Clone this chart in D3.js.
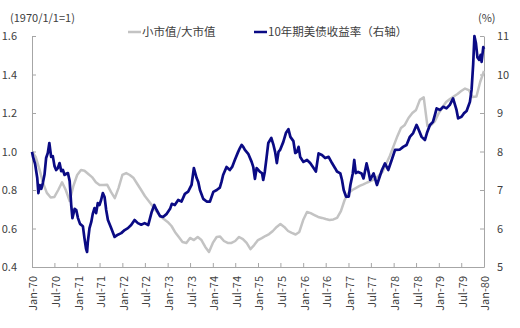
<!DOCTYPE html>
<html><head><meta charset="utf-8">
<script src="https://cdn.jsdelivr.net/npm/d3@7"></script>
<style>
html,body{margin:0;padding:0;background:#fff;}
svg text{font-family:"Noto Sans CJK SC","Noto Sans",sans-serif;fill:#404040;}
</style></head>
<body><svg id="c" width="520" height="328"></svg>
<script>
// ---- data ----
const seriesNames = ["小市值/大市值", "10年期美债收益率（右轴）"];
const leftTicks = [0.4, 0.6, 0.8, 1.0, 1.2, 1.4, 1.6];
const rightTicks = [5, 6, 7, 8, 9, 10, 11];
// small/large cap ratio, monthly from Jan-1970 to Jan-1980
const ratioValues = [1.0,0.97,0.91,0.836,0.785,0.761,0.764,0.80,0.84,0.80,
0.743,0.82,0.878,0.904,0.90,0.883,0.867,0.84,0.826,0.826,
0.827,0.79,0.758,0.81,0.878,0.888,0.878,0.862,0.831,0.80,
0.769,0.743,0.717,0.691,0.665,0.649,0.634,0.613,0.582,0.556,
0.53,0.525,0.551,0.54,0.556,0.54,0.504,0.478,0.525,0.556,
0.558,0.535,0.525,0.525,0.535,0.556,0.545,0.525,0.493,0.514,
0.54,0.55,0.561,0.571,0.587,0.608,0.623,0.608,0.587,0.577,
0.569,0.582,0.644,0.686,0.68,0.67,0.66,0.655,0.649,0.644,
0.647,0.655,0.69,0.748,0.784,0.80,0.81,0.821,0.829,0.839,
0.847,0.857,0.873,0.893,0.935,0.977,1.029,1.081,1.122,1.138,
1.174,1.2,1.216,1.268,1.281,1.132,1.138,1.158,1.20,1.231,
1.257,1.273,1.286,1.299,1.314,1.327,1.319,1.283,1.286,1.361,1.418];
// 10y treasury yield (%), months since Jan-1970
const yieldMonths = [0,0.27,0.8,1.41,1.73,2.12,2.52,2.92,3.37,3.8,4.25,4.65,5.12,5.57,6.03,6.45,6.9,7.35,7.78,8.23,
8.68,9.11,9.56,10.01,10.43,10.75,11.34,11.76,12.21,12.74,13.54,13.99,14.41,14.68,14.87,15.32,15.8,16.19,16.64,17.07,
17.52,17.97,18.4,18.85,19.3,19.72,20.18,21.05,21.95,22.83,23.71,24.61,25.48,26.36,27.26,28.14,29.02,29.92,30.87,31.78,
32.47,33.1,33.98,34.78,35.76,36.63,37.09,37.96,38.84,39.74,40.62,41.49,42.39,43.0,43.72,44.15,44.6,45.47,46.38,47.25,
48.13,49.03,49.91,50.36,50.78,51.69,52.56,53.17,53.89,54.76,55.22,55.67,56.09,56.54,57.42,58.32,58.75,59.2,59.65,60.53,
61.06,61.4,61.85,62.31,62.78,63.58,64.16,64.59,65.04,65.49,65.91,66.76,67.43,68.09,68.62,69.42,69.9,70.35,70.8,71.22,
72.07,73.0,73.88,74.78,75.39,76.11,76.98,77.86,78.76,79.64,80.51,80.97,81.84,82.29,82.75,83.36,84.07,84.5,85.13,85.56,
86.01,86.62,87.52,88.05,88.85,89.38,89.81,90.71,91.58,92.46,92.91,93.71,94.58,95.49,96.36,97.69,98.57,99.47,100.35,101.22,
102.12,102.55,103.45,104.33,104.86,105.65,106.45,106.98,107.43,108.31,109.18,110.09,110.96,111.84,112.74,113.17,114.07,114.68,115.4,116.27,
116.72,117.15,117.47,117.87,118.27,118.74,119.12,119.38,119.81,120];
const yieldValues = [7.99,7.86,7.68,7.31,6.92,7.13,7.03,7.18,7.40,7.83,7.96,8.22,7.86,7.88,7.62,7.52,7.57,7.70,7.49,7.52,
7.39,7.42,7.44,7.23,6.61,6.27,6.51,6.48,6.27,6.12,6.06,5.75,5.47,5.39,5.65,6.01,6.17,6.38,6.53,6.40,
6.66,6.61,6.74,6.92,6.82,6.48,6.22,6.01,5.78,5.84,5.88,5.96,6.01,6.09,6.22,6.14,6.10,6.14,6.09,6.43,
6.61,6.48,6.32,6.30,6.38,6.51,6.64,6.61,6.74,6.70,6.90,6.96,7.13,7.57,7.31,7.21,7.00,6.77,6.70,6.70,
6.95,7.00,7.06,7.21,7.39,7.60,7.52,7.60,7.78,7.99,8.09,8.17,8.12,8.04,7.94,7.73,7.60,7.29,7.57,7.47,
7.44,7.26,7.47,7.83,8.22,8.35,8.17,7.99,7.70,7.99,8.04,8.25,8.48,8.58,8.38,8.27,7.96,7.99,8.12,7.86,
7.73,7.78,7.70,7.57,7.48,7.95,7.91,7.83,7.86,7.70,7.56,7.48,7.43,7.26,7.00,6.83,6.83,7.13,7.43,7.78,
7.44,7.47,7.43,7.30,7.69,7.47,7.26,7.43,7.13,7.39,7.52,7.69,7.52,7.78,8.04,8.05,8.12,8.17,8.38,8.48,
8.69,8.60,8.38,8.30,8.48,8.69,8.77,8.95,9.12,9.08,9.16,9.12,9.21,9.38,9.08,8.86,8.90,8.99,9.05,9.29,
9.60,10.27,11.0,10.81,10.44,10.38,10.51,10.33,10.71,10.66];

// ---- helpers ----
function monthToDate(m){
  const f = Math.floor(m);
  const a = new Date(1970, f, 1), b = new Date(1970, f + 1, 1);
  return new Date(+a + (m - f) * (b - a));
}
const svg = d3.select("#c");
const X0 = 32, X1 = 484, Y0 = 267, Y1 = 36;
const x = d3.scaleTime().domain([new Date(1970,0,1), new Date(1980,0,1)]).range([X0, X1]);
const yL = d3.scaleLinear().domain([0.4, 1.6]).range([Y0, Y1]);
const yR = d3.scaleLinear().domain([5, 11]).range([Y0, Y1]);
const axisColor = "#a6a6a6";

// axes
const gx = svg.append("g").attr("transform", `translate(0,${Y0})`)
  .call(d3.axisBottom(x).tickValues(d3.timeMonth.every(6).range(new Date(1970,0,1), new Date(1980,0,2)))
    .tickFormat(d3.timeFormat("%b-%y")).tickSizeInner(-4).tickSizeOuter(0));
gx.selectAll("text").attr("transform", "rotate(-90)").attr("text-anchor", "end")
  .attr("x", -9).attr("y", 0).attr("dy", "0.45em").style("font-size", "11px");

const gl = svg.append("g").attr("transform", `translate(${X0},0)`)
  .call(d3.axisLeft(yL).tickValues(leftTicks).tickFormat(d3.format(".1f")).tickSizeInner(-4).tickSizeOuter(0));
gl.selectAll("text").attr("x", -15).style("font-size", "11px");

const gr = svg.append("g").attr("transform", `translate(${X1},0)`)
  .call(d3.axisRight(yR).tickValues(rightTicks).tickFormat(d3.format("d")).tickSizeInner(-4).tickSizeOuter(0));
gr.selectAll("text").attr("x", 13).style("font-size", "11px");

svg.selectAll(".domain, .tick line").attr("stroke", axisColor);
svg.selectAll(".tick text").attr("fill", "#404040").attr("font-family", null);

// lines
const ratioData = ratioValues.map((v, i) => ({d: d3.timeMonth.offset(new Date(1970,0,1), i), v}));
const yieldData = yieldMonths.map((m, i) => ({d: monthToDate(m), v: yieldValues[i]}));

svg.append("path").datum(ratioData)
  .attr("fill", "none").attr("stroke", "#c3c3c3").attr("stroke-width", 2.5).attr("stroke-linejoin", "round")
  .attr("d", d3.line().x(d => x(d.d)).y(d => yL(d.v)));
svg.append("path").datum(yieldData)
  .attr("fill", "none").attr("stroke", "#0a0a84").attr("stroke-width", 2.7).attr("stroke-linejoin", "round")
  .attr("d", d3.line().x(d => x(d.d)).y(d => yR(d.v)));

// unit labels
svg.append("text").attr("x", 10).attr("y", 18).attr("dy", "0.35em").style("font-size", "11px").text("(1970/1/1=1)");
svg.append("text").attr("x", 478).attr("y", 18).attr("dy", "0.35em").style("font-size", "11px").text("(%)");

// legend
const legend = [
  {name: seriesNames[0], color: "#c3c3c3", x: 128},
  {name: seriesNames[1], color: "#0a0a84", x: 254}
];
const lg = svg.selectAll(".lg").data(legend).enter().append("g").attr("transform", d => `translate(${d.x},32)`);
lg.append("line").attr("x1", 0).attr("x2", 13).attr("stroke", d => d.color).attr("stroke-width", 2.5);
lg.append("text").attr("x", 14).attr("dy", "0.35em").style("font-size", "11.5px").text(d => d.name);
</script></body></html>
